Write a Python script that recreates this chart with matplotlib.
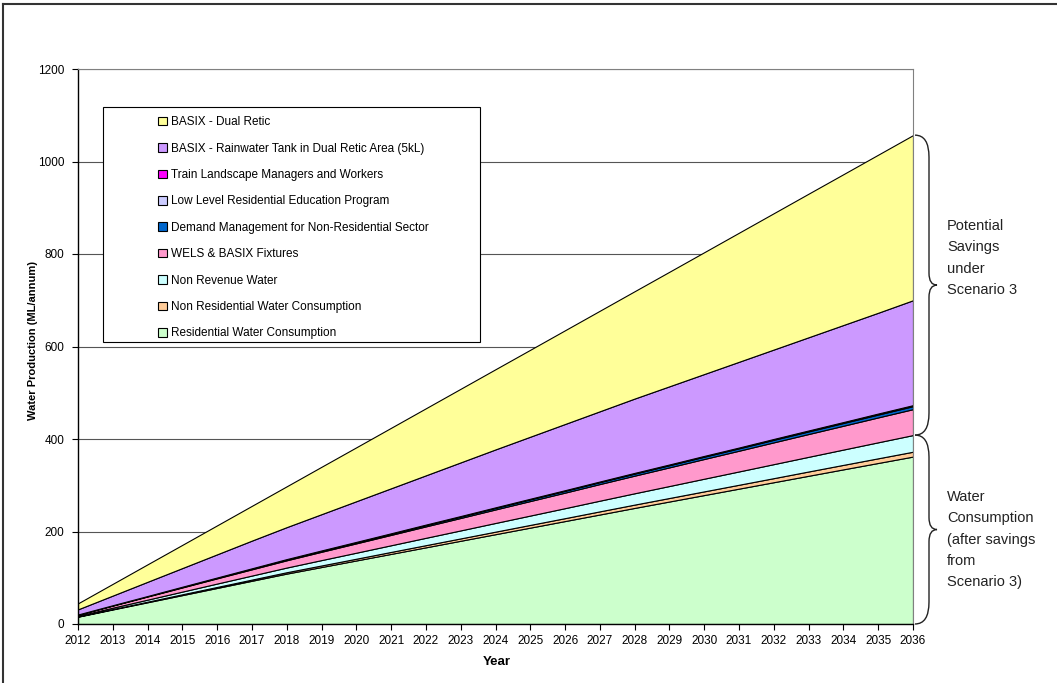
import matplotlib
matplotlib.use("Agg")
import matplotlib.pyplot as plt
from matplotlib.patches import Patch, Rectangle, PathPatch
from matplotlib.path import Path
from matplotlib.lines import Line2D
from matplotlib.transforms import blended_transform_factory

plt.rcParams['font.family'] = ['Liberation Sans', 'DejaVu Sans']

# ---- data (ML/annum) ----
years = list(range(2012, 2037))

residential = [15.8, 31.5, 47.0, 62.5, 78.0, 93.5, 109.0, 123.2, 137.4, 151.6, 165.8, 180.0, 194.2,
               208.4, 222.6, 236.8, 251.0, 264.9, 278.8, 292.7, 306.6, 320.5, 334.4, 348.2, 362.0]
non_residential = [0.5, 0.9, 1.3, 1.8, 2.2, 2.6, 3.0, 3.4, 3.8, 4.3, 4.7, 5.1, 5.5,
                   5.9, 6.3, 6.8, 7.2, 7.6, 8.0, 8.4, 8.8, 9.3, 9.7, 10.1, 10.5]
non_revenue = [1.5, 2.9, 4.4, 5.8, 7.3, 8.7, 10.1, 11.6, 13.0, 14.4, 15.9, 17.3, 18.8,
               20.2, 21.6, 23.1, 24.5, 25.9, 27.4, 28.8, 30.3, 31.7, 33.1, 34.6, 36.0]
wels_basix = [2.3, 4.5, 6.8, 9.0, 11.3, 13.5, 15.7, 18.0, 20.2, 22.4, 24.7, 26.9, 29.2,
              31.4, 33.6, 35.9, 38.1, 40.3, 42.6, 44.8, 47.1, 49.3, 51.5, 53.8, 56.0]
demand_mgmt = [0.3, 0.6, 0.8, 1.1, 1.3, 1.6, 1.9, 2.1, 2.4, 2.6, 2.9, 3.1, 3.4,
               3.7, 3.9, 4.2, 4.4, 4.7, 5.0, 5.2, 5.5, 5.7, 6.0, 6.2, 6.5]
low_level_edu = [0.1, 0.2, 0.2, 0.3, 0.3, 0.4, 0.4, 0.5, 0.5, 0.6, 0.6, 0.7, 0.8,
                 0.8, 0.9, 0.9, 1.0, 1.0, 1.1, 1.1, 1.2, 1.3, 1.3, 1.4, 1.4]
train_landscape = [0.1, 0.1, 0.1, 0.2, 0.2, 0.2, 0.3, 0.3, 0.3, 0.3, 0.4, 0.4, 0.4,
                   0.5, 0.5, 0.5, 0.6, 0.6, 0.6, 0.6, 0.7, 0.7, 0.7, 0.8, 0.8]
rainwater_tank = [11.1, 20.8, 30.7, 40.3, 50.1, 59.9, 69.1, 78.4, 87.9, 97.3, 106.5, 116.0, 125.2,
                  134.1, 143.1, 151.8, 160.7, 169.0, 177.0, 185.4, 193.3, 201.5, 209.8, 217.9, 226.8]
dual_retic = [13.0, 25.4, 37.8, 50.2, 62.7, 75.2, 88.3, 102.5, 116.6, 130.8, 145.0, 159.2, 173.4,
              188.0, 202.7, 217.4, 232.1, 247.7, 263.4, 279.1, 294.8, 310.5, 326.1, 341.8, 357.0]

series_labels = [
    "Residential Water Consumption",
    "Non Residential Water Consumption",
    "Non Revenue Water",
    "WELS & BASIX Fixtures",
    "Demand Management for Non-Residential Sector",
    "Low Level Residential Education Program",
    "Train Landscape Managers and Workers",
    "BASIX - Rainwater Tank in Dual Retic Area (5kL)",
    "BASIX - Dual Retic",
]
series_colors = ["#CCFFCC", "#FFCC99", "#CCFFFF", "#FF99CC", "#0066CC",
                 "#CCCCFF", "#FF00FF", "#CC99FF", "#FFFF99"]
series = [residential, non_residential, non_revenue, wels_basix, demand_mgmt,
          low_level_edu, train_landscape, rainwater_tank, dual_retic]

# ---- figure ----
W, H = 1057, 683
fig = plt.figure(figsize=(W / 100, H / 100), dpi=100)
ax = fig.add_axes([78 / W, 59 / H, 835 / W, 555 / H])

ax.stackplot(years, *series, colors=series_colors, edgecolor="black", linewidth=0.8, zorder=2)

ax.set_xlim(2012, 2036)
ax.set_ylim(0, 1200)
ax.set_xticks(years)
ax.set_yticks(range(0, 1201, 200))
ax.yaxis.grid(True, color="#555555", linewidth=0.8)
ax.set_axisbelow(True)

for side in ("top", "right"):
    ax.spines[side].set_color("#808080")
    ax.spines[side].set_linewidth(0.8)
for side in ("left", "bottom"):
    ax.spines[side].set_color("black")
    ax.spines[side].set_linewidth(1.0)

ax.tick_params(axis="both", direction="out", length=4, width=0.8, labelsize=8.5)
ax.tick_params(axis="y", pad=6)
ax.tick_params(axis="x", pad=4)

fig.text(33 / W, 1 - 340 / H, "Water Production (ML/annum)", rotation=90,
         ha="center", va="center", fontsize=8, fontweight="bold")
fig.text(497 / W, 1 - 662 / H, "Year", ha="center", va="center",
         fontsize=9.5, fontweight="bold")

# ---- legend (framed box, entries in reverse stacking order) ----
ax.add_patch(Rectangle((0.030, 0.508), 0.451, 0.4235, transform=ax.transAxes,
                       facecolor="white", edgecolor="black", linewidth=0.8, zorder=4))
handles = [Patch(facecolor=c, edgecolor="black", linewidth=0.8) for c in series_colors]
leg = ax.legend(handles[::-1], series_labels[::-1], loc="upper left",
                bbox_to_anchor=(0.0958, 0.915), frameon=False, fontsize=8.5,
                handlelength=0.75, handleheight=0.75, handletextpad=0.35,
                labelspacing=1.22, borderpad=0, borderaxespad=0)
leg.set_zorder(5)

# ---- braces on the right edge ----
pos = ax.get_position()
ax_w_px = pos.width * W
px_per_unit = pos.height * H / 1200.0
bt = blended_transform_factory(ax.transAxes, ax.transData)


def brace(y_top, y_bot):
    x0 = 1.0 + 2 / ax_w_px
    xv = 1.0 + 16 / ax_w_px
    xt = 1.0 + 24 / ax_w_px
    r = 22 / px_per_unit
    r2 = 12 / px_per_unit
    ym = (y_top + y_bot) / 2
    verts = [(x0, y_top), (xv, y_top), (xv, y_top - r),
             (xv, ym + r2),
             (xv, ym), (xt, ym),
             (xv, ym), (xv, ym - r2),
             (xv, y_bot + r),
             (xv, y_bot), (x0, y_bot)]
    codes = [Path.MOVETO, Path.CURVE3, Path.CURVE3,
             Path.LINETO,
             Path.CURVE3, Path.CURVE3,
             Path.CURVE3, Path.CURVE3,
             Path.LINETO,
             Path.CURVE3, Path.CURVE3]
    ax.add_patch(PathPatch(Path(verts, codes), transform=bt, fill=False,
                           edgecolor="#222222", linewidth=1.0, clip_on=False))


total_end = sum(s[-1] for s in series)
consumption_end = residential[-1] + non_residential[-1] + non_revenue[-1]
brace(total_end, consumption_end)
brace(consumption_end, 0)

text_x = 1.0 + 34 / ax_w_px
ax.text(text_x, (624 - 219) / 555, "Potential\nSavings\nunder\nScenario 3",
        transform=ax.transAxes, ha="left", va="top", fontsize=10.5, linespacing=1.66,
        color="#222222")
ax.text(text_x, (624 - 490) / 555, "Water\nConsumption\n(after savings\nfrom\nScenario 3)",
        transform=ax.transAxes, ha="left", va="top", fontsize=10.5, linespacing=1.66,
        color="#222222")

# ---- outer chart border ----
fig.add_artist(Line2D([3 / W, 1], [1 - 4 / H, 1 - 4 / H], transform=fig.transFigure,
                      color="#333333", linewidth=1.5))
fig.add_artist(Line2D([3 / W, 3 / W], [0, 1 - 4 / H], transform=fig.transFigure,
                      color="#333333", linewidth=1.5))

fig.savefig("out.png", dpi=100)
